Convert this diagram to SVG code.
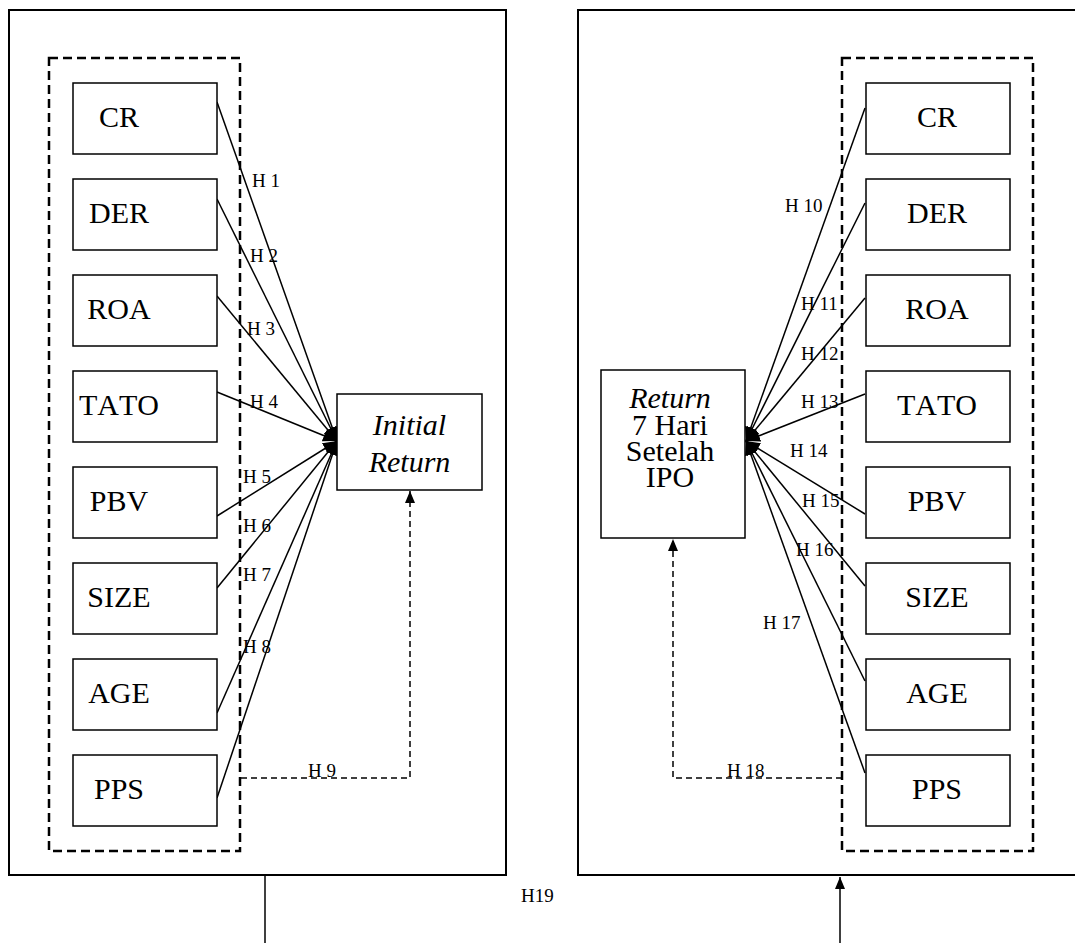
<svg xmlns="http://www.w3.org/2000/svg" width="1075" height="943" viewBox="0 0 1075 943">
<style>
.outer{fill:none;stroke:#000;stroke-width:2}
.dbox{fill:none;stroke:#000;stroke-width:2.5;stroke-dasharray:9 5}
.node rect{fill:#fff;stroke:#000;stroke-width:1.5}
.node text{font-family:"Liberation Serif",serif;font-size:30px;text-anchor:middle;fill:#000;font-kerning:none}
.it{font-style:italic}
.rt{font-size:29px}
.lbl{font-family:"Liberation Serif",serif;font-size:19px;fill:#000}
.conn{stroke:#000;stroke-width:1.5;fill:none}
.dconn{stroke:#000;stroke-width:1.5;fill:none;stroke-dasharray:6 4}
</style>
<defs>
<marker id="ah" markerUnits="userSpaceOnUse" markerWidth="14" markerHeight="12" refX="14" refY="6" orient="auto" viewBox="0 0 14 12"><path d="M0,0L14,6L0,12z" fill="#000"/></marker>
<marker id="ah2" markerUnits="userSpaceOnUse" markerWidth="12" markerHeight="10" refX="12" refY="5" orient="auto" viewBox="0 0 12 10"><path d="M0,0L12,5L0,10z" fill="#000"/></marker>
</defs>
<rect width="1075" height="943" fill="#fff"/>
<g id="panels">
<rect class="outer" x="9" y="10" width="497" height="865"/>
<rect class="outer" x="578" y="10" width="530" height="865"/>
<rect class="dbox" x="49" y="58" width="191" height="793"/>
<rect class="dbox" x="842" y="58" width="191" height="793"/>
</g>
<g id="connectors">
<path class="conn" marker-end="url(#ah)" d="M217,102L337,441"/>
<path class="conn" marker-end="url(#ah)" d="M217,199L337,441"/>
<path class="conn" marker-end="url(#ah)" d="M217,296L337,441"/>
<path class="conn" marker-end="url(#ah)" d="M217,392L337,441"/>
<path class="conn" marker-end="url(#ah)" d="M217,516L337,441"/>
<path class="conn" marker-end="url(#ah)" d="M217,588L337,441"/>
<path class="conn" marker-end="url(#ah)" d="M217,713L337,441"/>
<path class="conn" marker-end="url(#ah)" d="M217,798L337,441"/>
<path class="conn" marker-end="url(#ah)" d="M865,108L746,441"/>
<path class="conn" marker-end="url(#ah)" d="M865,203L746,441"/>
<path class="conn" marker-end="url(#ah)" d="M865,298L746,441"/>
<path class="conn" marker-end="url(#ah)" d="M865,394L746,441"/>
<path class="conn" marker-end="url(#ah)" d="M865,514L746,441"/>
<path class="conn" marker-end="url(#ah)" d="M865,586L746,441"/>
<path class="conn" marker-end="url(#ah)" d="M865,681L746,441"/>
<path class="conn" marker-end="url(#ah)" d="M865,773L746,441"/>
<path class="dconn" marker-end="url(#ah2)" d="M241,778H410V491"/>
<path class="dconn" marker-end="url(#ah2)" d="M842,778H673V539"/>
<path class="conn" stroke-width="1" d="M265,876V943"/>
<path class="conn" stroke-width="1" marker-end="url(#ah2)" d="M840,943V877"/>
</g>
<g id="labels">
<text class="lbl" x="252" y="187">H 1</text>
<text class="lbl" x="250" y="262">H 2</text>
<text class="lbl" x="247" y="335">H 3</text>
<text class="lbl" x="250" y="408">H 4</text>
<text class="lbl" x="243" y="483">H 5</text>
<text class="lbl" x="243" y="532">H 6</text>
<text class="lbl" x="243" y="581">H 7</text>
<text class="lbl" x="243" y="653">H 8</text>
<text class="lbl" x="308" y="777">H 9</text>
<text class="lbl" x="785" y="212">H 10</text>
<text class="lbl" x="801" y="310">H 11</text>
<text class="lbl" x="801" y="360">H 12</text>
<text class="lbl" x="801" y="408">H 13</text>
<text class="lbl" x="790" y="457">H 14</text>
<text class="lbl" x="802" y="507">H 15</text>
<text class="lbl" x="796" y="556">H 16</text>
<text class="lbl" x="763" y="629">H 17</text>
<text class="lbl" x="727" y="777">H 18</text>
<text class="lbl" x="521" y="902">H19</text>
</g>
<g id="L-CR" class="node"><rect x="73" y="83" width="144" height="71"/><text x="119" y="127">CR</text></g>
<g id="L-DER" class="node"><rect x="73" y="179" width="144" height="71"/><text x="119" y="223">DER</text></g>
<g id="L-ROA" class="node"><rect x="73" y="275" width="144" height="71"/><text x="119" y="319">ROA</text></g>
<g id="L-TATO" class="node"><rect x="73" y="371" width="144" height="71"/><text x="119" y="415">TATO</text></g>
<g id="L-PBV" class="node"><rect x="73" y="467" width="144" height="71"/><text x="119" y="511">PBV</text></g>
<g id="L-SIZE" class="node"><rect x="73" y="563" width="144" height="71"/><text x="119" y="607">SIZE</text></g>
<g id="L-AGE" class="node"><rect x="73" y="659" width="144" height="71"/><text x="119" y="703">AGE</text></g>
<g id="L-PPS" class="node"><rect x="73" y="755" width="144" height="71"/><text x="119" y="799">PPS</text></g>
<g id="InitialReturn" class="node"><rect x="337" y="394" width="145" height="96"/><text class="it" x="409.5" y="435">Initial</text><text class="it" x="409.5" y="472">Return</text></g>
<g id="R-CR" class="node"><rect x="866" y="83" width="144" height="71"/><text x="937" y="127">CR</text></g>
<g id="R-DER" class="node"><rect x="866" y="179" width="144" height="71"/><text x="937" y="223">DER</text></g>
<g id="R-ROA" class="node"><rect x="866" y="275" width="144" height="71"/><text x="937" y="319">ROA</text></g>
<g id="R-TATO" class="node"><rect x="866" y="371" width="144" height="71"/><text x="937" y="415">TATO</text></g>
<g id="R-PBV" class="node"><rect x="866" y="467" width="144" height="71"/><text x="937" y="511">PBV</text></g>
<g id="R-SIZE" class="node"><rect x="866" y="563" width="144" height="71"/><text x="937" y="607">SIZE</text></g>
<g id="R-AGE" class="node"><rect x="866" y="659" width="144" height="71"/><text x="937" y="703">AGE</text></g>
<g id="R-PPS" class="node"><rect x="866" y="755" width="144" height="71"/><text x="937" y="799">PPS</text></g>
<g id="Return7" class="node"><rect x="601" y="370" width="144" height="168"/><text class="it rt" x="670" y="408">Return</text><text class="rt" x="670" y="435">7 Hari</text><text class="rt" x="670" y="461">Setelah</text><text class="rt" x="670" y="487">IPO</text></g>
</svg>
